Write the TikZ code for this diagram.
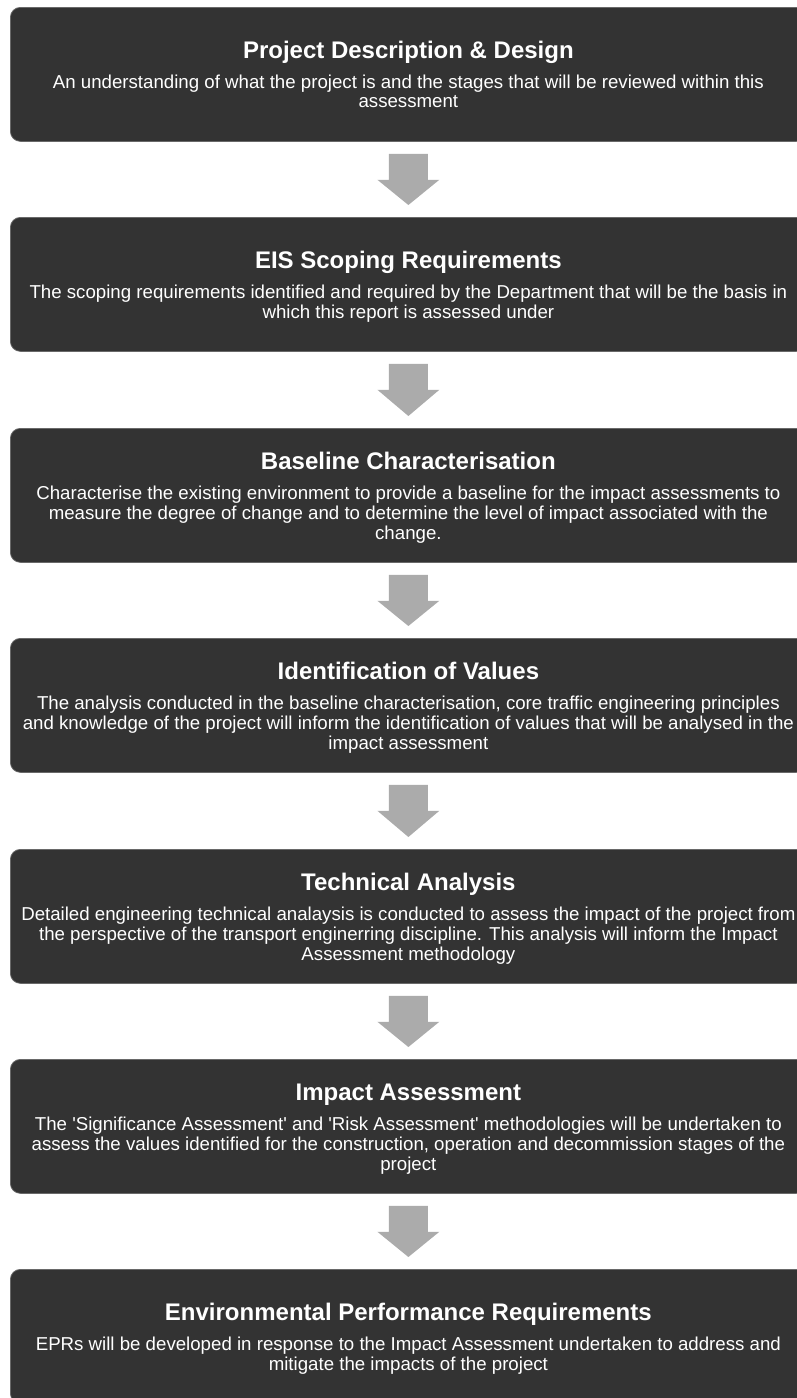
\documentclass[tikz,border=0pt]{standalone}
\usepackage{fontspec}
\setmainfont{Liberation Sans}
\usetikzlibrary{calc}
\definecolor{boxdark}{RGB}{51,51,51}
\definecolor{boxedge}{RGB}{105,105,105}
\definecolor{arrowgray}{RGB}{171,171,171}
\newcommand\blockarrow[2]{%
  \fill[arrowgray] ($(#1.south)+(-19.5,-12)$) -- ($(#1.south)+(19.5,-12)$)
    -- ($(#1.south)+(19.5,-38)$) -- ($(#1.south)+(31,-38)$)
    -- ($(#2.north)+(0,12)$)
    -- ($(#1.south)+(-31,-38)$) -- ($(#1.south)+(-19.5,-38)$) -- cycle;}
\tikzset{
  stagebox/.style={draw=boxedge, line width=0.75pt, fill=boxdark, rounded corners=10pt,
    minimum width=796pt, minimum height=134pt, anchor=north west, inner sep=0pt},
  stagetitle/.style={text=white, anchor=base, inner sep=0pt,
    font=\fontsize{24}{28}\selectfont\bfseries},
  stagebody/.style={text=white, anchor=north, inner sep=0pt, align=center,
    font=\fontsize{18.67}{19.2}\selectfont}
}
\begin{document}
\begin{tikzpicture}[x=1pt,y=1pt]
\useasboundingbox (0,0) rectangle (797,-1398);
\clip (0,0) rectangle (797,-1398);
% boxes
\node[stagebox] (b1) at (10,-7) {};
\node[stagebox] (b2) at (10,-217) {};
\node[stagebox] (b3) at (10,-428) {};
\node[stagebox] (b4) at (10,-638) {};
\node[stagebox] (b5) at (10,-849) {};
\node[stagebox] (b6) at (10,-1059) {};
\node[stagebox] (b7) at (10,-1269) {};
% arrows
\blockarrow{b1}{b2}
\blockarrow{b2}{b3}
\blockarrow{b3}{b4}
\blockarrow{b4}{b5}
\blockarrow{b5}{b6}
\blockarrow{b6}{b7}
% texts
\node[stagetitle] (t1) at ($(b1.north)+(0,-51)$) {Project Description \& Design};
\node[stagebody] (d1) at ($(t1.base)+(0,-16.56)$) {\strut An understanding of what the project is and the stages that will be reviewed within this\\assessment};
\node[stagetitle] (t2) at ($(b2.north)+(0,-51)$) {EIS Scoping Requirements};
\node[stagebody] (d2) at ($(t2.base)+(0,-16.56)$) {\strut The scoping requirements identified and required by the Department that will be the basis in\\which this report is assessed under};
\node[stagetitle] (t3) at ($(b3.north)+(0,-41.4)$) {Baseline Characterisation};
\node[stagebody] (d3) at ($(t3.base)+(0,-16.56)$) {\strut Characterise the existing environment to provide a baseline for the impact assessments to\\measure the degree of change and to determine the level of impact associated with the\\change.};
\node[stagetitle] (t4) at ($(b4.north)+(0,-41.4)$) {Identification of Values};
\node[stagebody] (d4) at ($(t4.base)+(0,-16.56)$) {\strut The analysis conducted in the baseline characterisation, core traffic engineering principles\\and knowledge of the project will inform the identification of values that will be analysed in the\\impact assessment};
\node[stagetitle] (t5) at ($(b5.north)+(0,-41.4)$) {Technical Analysis};
\node[stagebody] (d5) at ($(t5.base)+(0,-16.56)$) {\strut Detailed engineering technical analaysis is conducted to assess the impact of the project from\\the perspective of the transport enginerring discipline. This analysis will inform the Impact\\Assessment methodology};
\node[stagetitle] (t6) at ($(b6.north)+(0,-41.4)$) {Impact Assessment};
\node[stagebody] (d6) at ($(t6.base)+(0,-16.56)$) {\strut The \textquotesingle Significance Assessment\textquotesingle{} and \textquotesingle Risk Assessment\textquotesingle{} methodologies will be undertaken to\\assess the values identified for the construction, operation and decommission stages of the\\project};
\node[stagetitle] (t7) at ($(b7.north)+(0,-51)$) {Environmental Performance Requirements};
\node[stagebody] (d7) at ($(t7.base)+(0,-16.56)$) {\strut EPRs will be developed in response to the Impact Assessment undertaken to address and\\mitigate the impacts of the project};
\end{tikzpicture}
\end{document}
